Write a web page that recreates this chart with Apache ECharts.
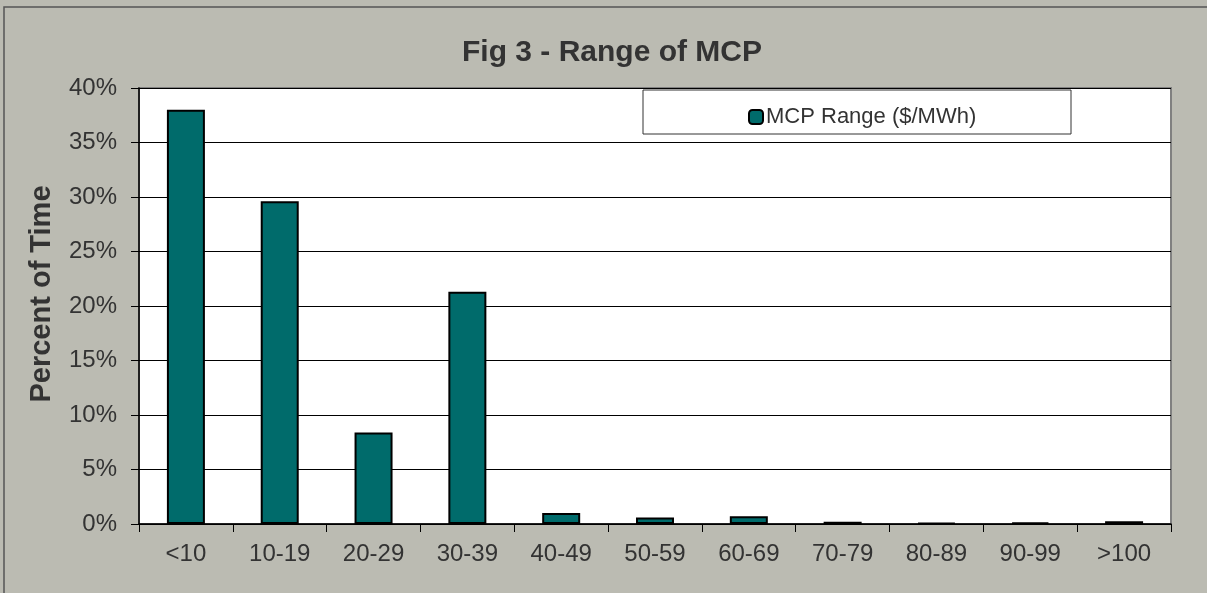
<!DOCTYPE html>
<html><head><meta charset="utf-8">
<script src="https://cdn.jsdelivr.net/npm/echarts@6/dist/echarts.min.js"></script>
<style>html,body{margin:0;padding:0;background:#BBBBB2;}#c{width:1207px;height:593px;}</style>
</head><body><div id="c"></div>
<script>
const categories = ['<10','10-19','20-29','30-39','40-49','50-59','60-69','70-79','80-89','90-99','>100'];
const values = [38.0, 29.6, 8.4, 21.3, 1.0, 0.6, 0.7, 0.2, 0.1, 0.15, 0.25];
const yTicks = [0,5,10,15,20,25,30,35,40];
const seriesName = 'MCP Range ($/MWh)';
const titleText = 'Fig 3 - Range of MCP';
const yName = 'Percent of Time';

const chart = echarts.init(document.getElementById('c'));
const font = 'Arial, "Liberation Sans", sans-serif';
chart.setOption({
  backgroundColor: '#BBBBB2',
  animation: false,
  textStyle: {fontFamily: font},
  title: {text: titleText, left: 457, top: 33, textStyle: {fontSize: 30, fontWeight: 'bold', color: '#333', fontFamily: font}},
  graphic: [
    {type: 'rect', shape: {x: 4, y: 7, width: 1250, height: 650}, style: {fill: 'none', stroke: '#555', lineWidth: 1.5}, silent: true},
    {type: 'rect', shape: {x: 643, y: 90, width: 428, height: 44}, style: {fill: '#fff', stroke: '#333', lineWidth: 1}, z: 5, silent: true},
    {type: 'text', x: 42, y: 294, rotation: Math.PI / 2, z: 10,
      style: {text: yName, fontSize: 29, fontWeight: 'bold', fill: '#333', fontFamily: font, align: 'center', verticalAlign: 'middle'}}
  ],
  legend: {data: [seriesName], left: 743, top: 101, itemWidth: 14, itemHeight: 14, itemGap: 4, z: 10,
    textStyle: {fontSize: 22, color: '#333', fontFamily: font, padding: [0,0,0,-2]}},
  grid: {left: 139, top: 88, right: 36, bottom: 69, show: true, backgroundColor: '#fff', borderColor: '#808080', borderWidth: 2},
  xAxis: {type: 'category', data: categories,
    axisLine: {lineStyle: {color: '#000', width: 1.5}},
    axisTick: {show: true, length: 8, lineStyle: {color: '#000'}},
    axisLabel: {fontSize: 24, color: '#333', margin: 18, fontFamily: font}},
  yAxis: {type: 'value', min: 0, max: 40, interval: 5,
    axisLine: {show: true, lineStyle: {color: '#000', width: 1.5}},
    axisTick: {show: true, length: 8, lineStyle: {color: '#000'}},
    axisLabel: {fontSize: 24, color: '#333', margin: 22, formatter: v => yTicks.includes(v) ? v + '%' : '', fontFamily: font},
    splitLine: {lineStyle: {color: '#000', width: 1}}},
  series: [{name: seriesName, type: 'bar', data: values, barWidth: 38,
    itemStyle: {color: '#006B6B', borderColor: '#000', borderWidth: 2}}]
});
</script></body></html>
